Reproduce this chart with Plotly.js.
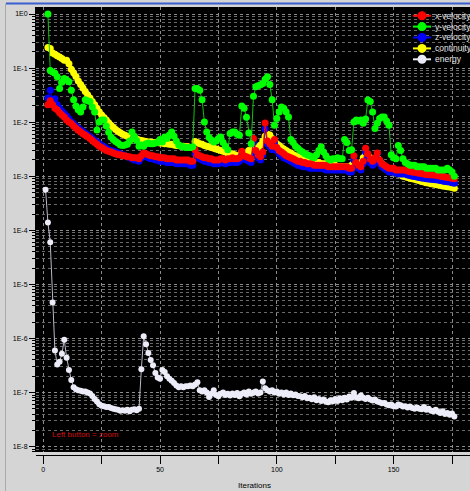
<!DOCTYPE html>
<html><head><meta charset="utf-8">
<script src="https://cdn.plot.ly/plotly-3.0.1.min.js"></script>
<style>html,body{margin:0;padding:0;background:#d5d5d5;} #chart{width:470px;height:491px;}</style>
</head><body><div id="chart"></div>
<script>
const seriesNames = ['x-velocity', 'y-velocity', 'z-velocity', 'continuity', 'energy'];

const xVelocity = [null,0.021,0.025,0.021,0.018,0.017,0.015,0.0135,0.0125,0.011,
0.0101,0.0094,0.0085,0.0077,0.0071,0.0066,0.0061,0.0057,0.0054,0.005,
0.0046,0.0042,0.0039,0.0036,0.0034,0.0032,0.003,0.0029,0.0028,0.0027,
0.0026,0.0025,0.0025,0.0024,0.0024,0.0023,0.0023,0.0022,0.0022,0.0022,
0.0021,0.0024,0.0027,0.0026,0.0025,0.0024,0.0024,0.0023,0.0023,0.0022,
0.0022,0.0022,0.0021,0.0021,0.0021,0.0021,0.002,0.002,0.002,0.002,
0.002,0.002,0.0019,0.0019,0.0031,0.0025,0.0024,0.0023,0.0022,0.0022,
0.0021,0.0021,0.002,0.002,0.002,0.0021,0.0021,0.002,0.0021,0.0021,
0.0022,0.0021,0.0021,0.0022,0.0029,0.0024,0.0023,0.0022,0.0021,0.005,
0.003,0.0025,0.0023,0.0028,0.0097,0.0045,0.004,0.0036,0.0048,0.0034,
0.003,0.0028,0.0026,0.0024,0.0023,0.0022,0.0021,0.002,0.0019,0.0019,
0.0018,0.0018,0.0017,0.0017,0.0017,0.0016,0.0016,0.0016,0.0016,0.0016,
0.0016,0.0015,0.0015,0.0015,0.0015,0.0015,0.0015,0.0015,0.0015,0.0015,
0.0014,0.0014,0.0024,0.0018,0.0016,0.0015,0.0019,0.0033,0.0026,0.0021,
0.0019,0.0022,0.0027,0.002,0.0017,0.0016,0.0015,0.0014,0.0014,0.0014,
0.0013,0.0013,0.0013,0.0013,0.0013,0.00125,0.00122,0.0012,0.00118,0.00116,
0.00114,0.00112,0.0011,0.00108,0.00107,0.00106,0.00105,0.00104,0.00103,0.001,
0.00099,0.00097,0.00095,0.00094,0.00092,0.0009];

const yVelocity = [null,1.0,0.09,0.085,0.08,0.069,0.042,0.055,0.064,0.06,
0.056,0.039,0.026,0.02,0.017,0.0155,0.019,0.026,0.025,0.024,
0.019,0.0155,0.0072,0.0101,0.011,0.011,0.0085,0.0065,0.0053,0.0048,
0.0044,0.0041,0.0038,0.0037,0.0038,0.0039,0.0045,0.0066,0.0055,0.0046,
0.0036,0.0038,0.0036,0.004,0.0041,0.004,0.004,0.0041,0.0042,0.0048,
0.0043,0.0053,0.005,0.0058,0.0066,0.0055,0.0045,0.0038,0.0036,0.0035,
0.0034,0.0034,0.0034,0.0035,0.042,0.042,0.039,0.026,0.0101,0.0066,
0.0052,0.0047,0.0043,0.0045,0.005,0.0053,0.0042,0.0036,0.0031,0.0062,
0.0066,0.0066,0.006,0.0057,0.02,0.018,0.0123,0.0063,0.004,0.03,
0.045,0.047,0.049,0.052,0.062,0.069,0.05,0.026,0.0088,0.0117,
0.0155,0.019,0.018,0.0155,0.0125,0.0048,0.0042,0.0036,0.0033,0.003,
0.0028,0.0026,0.0025,0.0024,0.0023,0.0022,0.0025,0.003,0.0035,0.0028,
0.0024,0.0021,0.002,0.0021,0.0021,0.0022,0.0021,0.0021,0.0048,0.0042,
0.003,0.0031,0.0101,0.011,0.0105,0.011,0.0095,0.0115,0.0257,0.024,
0.0155,0.0076,0.0095,0.0117,0.0125,0.0125,0.0105,0.0088,0.0025,0.0022,
0.0021,0.0037,0.003,0.0021,0.0018,0.0017,0.0016,0.0016,0.0016,0.0015,
0.0015,0.0015,0.0015,0.0014,0.0014,0.0014,0.0014,0.0014,0.0013,0.0013,
0.0013,0.0013,0.0014,0.0013,0.0012,0.001];

const zVelocity = [null,0.028,0.039,0.026,0.027,0.021,0.018,0.016,0.0145,0.013,
0.0115,0.0102,0.0093,0.0085,0.0078,0.0072,0.0067,0.0062,0.0058,0.0054,
0.005,0.0046,0.0043,0.004,0.0037,0.0035,0.0033,0.0031,0.003,0.0029,
0.0028,0.0027,0.0026,0.0025,0.0024,0.0023,0.0022,0.0021,0.002,0.002,
0.0019,0.0022,0.0025,0.0023,0.0022,0.0021,0.0021,0.002,0.002,0.0019,
0.0019,0.0019,0.0018,0.0018,0.0018,0.0018,0.0017,0.0017,0.0017,0.0017,
0.0017,0.0017,0.0016,0.0016,0.0026,0.0022,0.0021,0.002,0.0019,0.0019,
0.0018,0.0018,0.0017,0.0017,0.0017,0.0018,0.0018,0.0017,0.0018,0.0018,
0.0019,0.0018,0.0018,0.0019,0.0025,0.0021,0.002,0.0019,0.0018,0.0042,
0.0026,0.0022,0.002,0.0025,0.0075,0.0039,0.0035,0.0031,0.0041,0.003,
0.0026,0.0024,0.0022,0.0021,0.002,0.0019,0.0018,0.0017,0.0016,0.0016,
0.0015,0.0015,0.0015,0.0014,0.0014,0.0014,0.0014,0.0014,0.0014,0.0014,
0.0013,0.0013,0.0013,0.0013,0.0013,0.0013,0.0013,0.0013,0.0013,0.0013,
0.0012,0.0012,0.002,0.0015,0.0014,0.0013,0.0017,0.0028,0.0022,0.0018,
0.0016,0.0019,0.0026,0.0017,0.0015,0.0014,0.0013,0.0012,0.0012,0.0012,
0.00115,0.0011,0.0011,0.0011,0.0011,0.00105,0.00103,0.001,0.00099,0.00097,
0.00095,0.00093,0.00092,0.0009,0.00089,0.00088,0.00087,0.00086,0.00085,0.00083,
0.00082,0.0008,0.00079,0.00078,0.00076,0.00074];

const continuity = [null,0.24,0.23,0.19,0.18,0.17,0.16,0.15,0.14,0.14,
0.12,0.095,0.082,0.07,0.058,0.05,0.043,0.037,0.032,0.028,
0.024,0.021,0.018,0.0155,0.0135,0.0122,0.011,0.0098,0.0088,0.008,
0.0073,0.0068,0.0064,0.006,0.0057,0.0055,0.0053,0.0052,0.005,0.0049,
0.0047,0.0046,0.0045,0.0044,0.0043,0.0043,0.0042,0.0042,0.0042,0.0041,
0.0041,0.004,0.004,0.0039,0.0039,0.0038,0.0037,0.0037,0.0036,0.0036,
0.0035,0.0035,0.0034,0.0034,0.0044,0.0042,0.004,0.0039,0.0037,0.0036,
0.0035,0.0034,0.0033,0.0032,0.0031,0.003,0.0029,0.0028,0.0027,0.0026,
0.0026,0.0025,0.0024,0.0024,0.0028,0.0027,0.0025,0.003,0.0028,0.0032,
0.0035,0.0034,0.0038,0.0045,0.0055,0.006,0.0058,0.005,0.0044,0.004,
0.0037,0.0034,0.0032,0.003,0.0028,0.0027,0.0025,0.0024,0.0023,0.0022,
0.0021,0.002,0.002,0.0019,0.0019,0.0018,0.0018,0.0018,0.0017,0.0017,
0.0017,0.0016,0.0016,0.0016,0.0016,0.0015,0.0015,0.0015,0.0015,0.0015,
0.0014,0.0016,0.0018,0.0016,0.0015,0.0018,0.0022,0.0025,0.0024,0.0022,
0.0019,0.002,0.0022,0.0019,0.0017,0.0015,0.0014,0.0013,0.00125,0.0012,
0.00115,0.0011,0.00105,0.001,0.00098,0.00095,0.00092,0.0009,0.00088,0.00085,
0.00083,0.0008,0.00078,0.00076,0.00075,0.00073,0.00072,0.0007,0.00069,0.00068,
0.00066,0.00065,0.00064,0.00063,0.00062,0.0006];

const energy = [5.6e-4,1.4e-4,6.0e-5,4.6e-6,6.0e-7,3.3e-7,3.7e-7,5.2e-7,9.5e-7,4.4e-7,
2.6e-7,1.7e-7,1.25e-7,1.15e-7,1.1e-7,1.08e-7,1.05e-7,1.05e-7,1.0e-7,9.6e-8,
8.6e-8,7.6e-8,6.8e-8,6.1e-8,5.7e-8,5.6e-8,5.4e-8,5.4e-8,5.2e-8,5.0e-8,
4.9e-8,4.8e-8,4.6e-8,4.7e-8,4.6e-8,4.8e-8,4.5e-8,4.8e-8,4.9e-8,4.7e-8,
5.0e-8,2.7e-7,1.1e-6,7.8e-7,5.4e-7,4.0e-7,3.2e-7,2.3e-7,1.9e-7,1.8e-7,
2.6e-7,2.4e-7,2.0e-7,1.8e-7,1.65e-7,1.5e-7,1.35e-7,1.25e-7,1.3e-7,1.25e-7,
1.3e-7,1.3e-7,1.35e-7,1.3e-7,1.4e-7,1.55e-7,1.1e-7,1.05e-7,1.1e-7,1.0e-7,
8.3e-8,9.5e-8,1.1e-7,9.0e-8,8.5e-8,9.5e-8,1.0e-7,9.0e-8,9.5e-8,8.8e-8,
9.6e-8,9.0e-8,9.8e-8,8.5e-8,9.5e-8,1.0e-7,9.2e-8,1.05e-7,9.5e-8,1.0e-7,
1.05e-7,9.6e-8,1.0e-7,1.6e-7,1.2e-7,1.1e-7,1.05e-7,1.1e-7,1.0e-7,1.05e-7,
9.5e-8,1.0e-7,9.2e-8,1.0e-7,9.0e-8,9.6e-8,8.9e-8,9.2e-8,8.6e-8,8.5e-8,
8.2e-8,8.6e-8,7.8e-8,8.0e-8,7.5e-8,8.2e-8,7.2e-8,7.6e-8,7.0e-8,7.4e-8,
6.8e-8,6.6e-8,7.2e-8,6.9e-8,7.6e-8,7.0e-8,7.8e-8,7.2e-8,8.0e-8,7.4e-8,
8.4e-8,8.0e-8,9.8e-8,8.2e-8,7.8e-8,8.8e-8,8.0e-8,7.6e-8,8.0e-8,7.4e-8,
7.1e-8,7.4e-8,6.8e-8,6.6e-8,6.3e-8,6.4e-8,6.0e-8,5.8e-8,6.0e-8,5.6e-8,
5.5e-8,6.0e-8,5.8e-8,5.5e-8,5.6e-8,5.3e-8,5.5e-8,5.2e-8,5.0e-8,5.3e-8,
5.0e-8,4.9e-8,5.4e-8,4.8e-8,5.0e-8,4.6e-8,4.5e-8,4.8e-8,4.4e-8,4.2e-8,
4.5e-8,4.0e-8,4.2e-8,3.9e-8,4.1e-8,3.6e-8];

const xTickVals = [0, 25, 50, 75, 100, 125, 150, 175];
const xTickText = ['0', '', '50', '', '100', '', '150', ''];
const yTickVals = [1, 1e-1, 1e-2, 1e-3, 1e-4, 1e-5, 1e-6, 1e-7, 1e-8];
const yTickText = ['1E0', '1E-1', '1E-2', '1E-3', '1E-4', '1E-5', '1E-6', '1E-7', '1E-8'];

const iterations = energy.map((_, i) => i + 1);

// geometry helpers (pixel -> paper)
const W = 470, H = 491, M = {l: 36, r: 0, t: 7, b: 36};
const PW = W - M.l - M.r, PH = H - M.t - M.b;
const px = x => (x - M.l) / PW;
const py = y => (H - M.b - y) / PH;

const colors = {'x-velocity': '#ff0000', 'y-velocity': '#00ff00', 'z-velocity': '#0000ff', 'continuity': '#ffff00', 'energy': '#ececf8'};
const lineColors = {'x-velocity': '#ff0000', 'y-velocity': '#10c010', 'z-velocity': '#0000ff', 'continuity': '#ffff00', 'energy': '#b8b8c8'};
const markerSizes = {'x-velocity': 7, 'y-velocity': 7, 'z-velocity': 7, 'continuity': 7, 'energy': 6};
const dataFor = {'x-velocity': xVelocity, 'y-velocity': yVelocity, 'z-velocity': zVelocity, 'continuity': continuity, 'energy': energy};

const drawOrder = ['continuity', 'z-velocity', 'x-velocity', 'y-velocity', 'energy'];
const traces = drawOrder.map(n => ({
  type: 'scatter', mode: 'lines+markers', name: n,
  x: iterations, y: dataFor[n],
  line: {color: lineColors[n], width: 1},
  marker: {color: colors[n], size: markerSizes[n]},
  connectgaps: false, showlegend: false, cliponaxis: true
}));

// minor log ticks
const minorVals = [];
for (let e = -9; e <= 0; e++) for (let d = 2; d <= 9; d++) minorVals.push(d * Math.pow(10, e));

const shapes = [
  {type: 'line', xref: 'paper', yref: 'paper', x0: px(6), x1: px(470), y0: py(3.5), y1: py(3.5), line: {color: '#3a5fd0', width: 2}},
  {type: 'line', xref: 'paper', yref: 'paper', x0: px(5.5), x1: px(5.5), y0: py(3.5), y1: py(491), line: {color: '#a9a9a9', width: 1}}
];
const annotations = [
  {xref: 'paper', yref: 'paper', x: px(50), y: py(434), xanchor: 'left', yanchor: 'middle', text: 'Left button = zoom', showarrow: false, font: {family: 'Arial, Liberation Sans', size: 8, color: '#d01010'}},
  {xref: 'paper', yref: 'paper', x: px(254), y: py(485), xanchor: 'center', yanchor: 'middle', text: 'Iterations', showarrow: false, font: {family: 'Arial, Liberation Sans', size: 8, color: '#000'}}
];
const legendY = [15.7, 26.6, 37.5, 48.4, 59.3];
seriesNames.forEach((n, i) => {
  const yc = legendY[i];
  shapes.push({type: 'line', xref: 'paper', yref: 'paper', x0: px(413), x1: px(431), y0: py(yc), y1: py(yc), line: {color: colors[n], width: 2}});
  shapes.push({type: 'circle', xref: 'paper', yref: 'paper', x0: px(417.5), x1: px(426.5), y0: py(yc + 4.5), y1: py(yc - 4.5), fillcolor: colors[n], line: {color: colors[n], width: 0}});
  annotations.push({xref: 'paper', yref: 'paper', x: px(433), y: py(yc), xanchor: 'left', yanchor: 'middle', text: n, showarrow: false, font: {family: 'Arial, Liberation Sans', size: 8.5, color: '#e6e6e6'}});
});

const layout = {
  width: W, height: H,
  margin: {l: M.l, r: M.r, t: M.t, b: M.b, pad: 0},
  paper_bgcolor: '#d5d5d5', plot_bgcolor: '#000000',
  showlegend: false,
  xaxis: {
    range: [-3.1, 182.7], anchor: 'free', position: 0,
    tickmode: 'array', tickvals: xTickVals, ticktext: xTickText,
    ticks: 'outside', ticklen: 8, tickcolor: '#000', tickwidth: 1,
    showline: true, linecolor: '#000', linewidth: 1,
    showgrid: true, gridcolor: '#8c8c8c', griddash: 'dot', gridwidth: 1,
    zeroline: false, tickfont: {family: 'Arial, Liberation Sans', size: 7, color: '#000'}
  },
  yaxis: {
    type: 'log', range: [-8.10, 0.13], domain: [py(452), 1],
    tickmode: 'array', tickvals: yTickVals, ticktext: yTickText,
    ticks: 'outside', ticklen: 6, tickcolor: '#000', tickwidth: 1,
    showline: true, linecolor: '#000', linewidth: 1,
    showgrid: true, gridcolor: '#8c8c8c', griddash: 'dot', gridwidth: 1,
    zeroline: false, tickfont: {family: 'Arial, Liberation Sans', size: 7, color: '#000'},
    minor: {tickmode: 'array', tickvals: minorVals, ticks: 'outside', ticklen: 3, tickcolor: '#000',
            showgrid: true, gridcolor: '#6a6a6a', griddash: 'dot', gridwidth: 1}
  },
  shapes: shapes,
  annotations: annotations
};

Plotly.newPlot('chart', traces, layout, {displayModeBar: false, staticPlot: true});
</script>
</body></html>
